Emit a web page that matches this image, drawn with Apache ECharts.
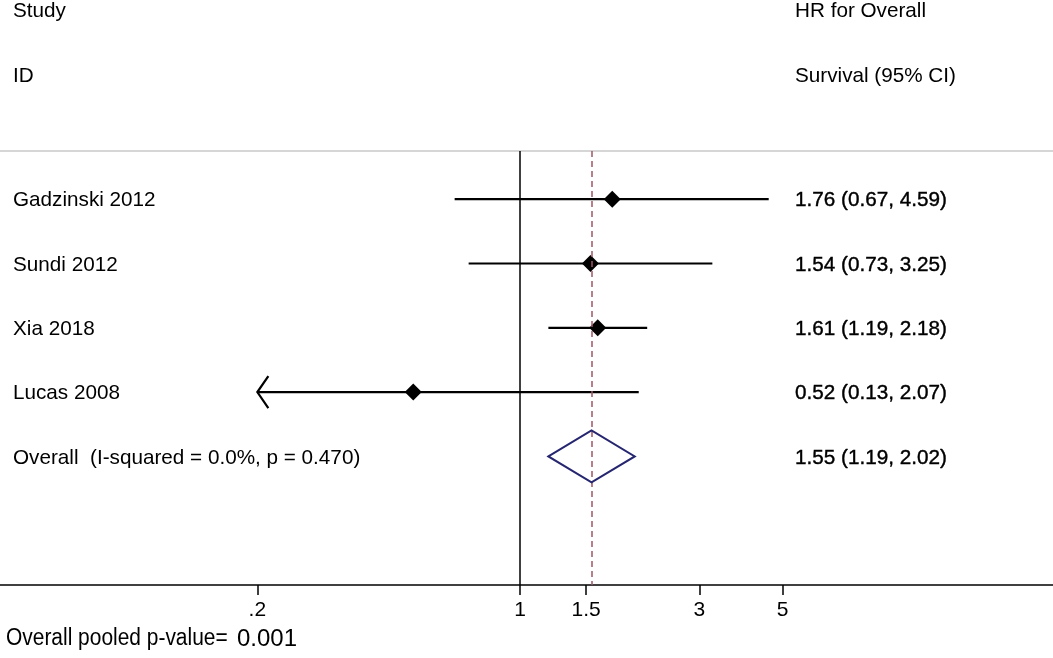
<!DOCTYPE html>
<html>
<head>
<meta charset="utf-8">
<title>Forest plot - HR for Overall Survival</title>
<script src="https://cdn.jsdelivr.net/npm/echarts@6/dist/echarts.min.js"></script>
<style>
  html, body { margin: 0; padding: 0; background: #fff; }
  #chart { width: 1053px; height: 658px; }
</style>
</head>
<body>
<div id="chart"></div>
<script>
// 数据
var studies = ['Gadzinski 2012', 'Sundi 2012', 'Xia 2018', 'Lucas 2008'];
var hr = [1.76, 1.54, 1.61, 0.52];
var lower = [0.67, 0.73, 1.19, 0.13];
var upper = [4.59, 3.25, 2.18, 2.07];

var overallName = 'Overall  (I-squared = 0.0%, p = 0.470)';
var overallHR = 1.55;
var overallCI = [1.19, 2.02];

var tickValues = [0.2, 1, 1.5, 3, 5];
var tickLabels = ['.2', '1', '1.5', '3', '5'];
var ciClipMin = 0.2;   // 图的左端，超出的置信区间画箭头
var pooledP = '0.001';

// 版面参数
var FONT = '"Liberation Sans", Arial, Helvetica, sans-serif';
var TEXT_SIZE = 20.7;
var X_ONE = 520;        // HR = 1 的像素位置
var PX_PER_LN = 163.2;  // 每个 ln 单位的像素
var WIDTH = 1053;
var NAME_X = 13;
var CI_X = 795;

var ln = Math.log;
var xMin = -X_ONE / PX_PER_LN;
var xMax = (WIDTH - X_ONE) / PX_PER_LN;

function fmt(v) { return v.toFixed(2); }

var rowNames = studies.concat([overallName]);
var rowCI = hr.map(function (v, i) {
    return fmt(v) + ' (' + fmt(lower[i]) + ', ' + fmt(upper[i]) + ')';
}).concat([fmt(overallHR) + ' (' + fmt(overallCI[0]) + ', ' + fmt(overallCI[1]) + ')']);

function headText(text, x, y) {
    return { type: 'text', x: x, y: y, style: { text: text, font: TEXT_SIZE + 'px ' + FONT, fill: '#000', verticalAlign: 'middle' } };
}

var chart = echarts.init(document.getElementById('chart'));

var option = {
    backgroundColor: '#fff',
    animation: false,
    grid: { left: 0, right: 0, top: 151, bottom: 73, outerBoundsMode: 'none' },
    xAxis: [{
        type: 'value',
        min: xMin,
        max: xMax,
        position: 'bottom',
        axisLine: { show: true, onZero: false, lineStyle: { color: '#000', width: 1.6 } },
        axisTick: {
            show: true, length: 10,
            customValues: tickValues.map(ln),
            lineStyle: { color: '#000', width: 1.5 }
        },
        axisLabel: {
            show: true,
            customValues: tickValues.map(ln),
            margin: 15,
            fontFamily: FONT,
            fontSize: 21,
            color: '#000',
            formatter: function (v) {
                for (var i = 0; i < tickValues.length; i++) {
                    if (Math.abs(ln(tickValues[i]) - v) < 1e-6) return tickLabels[i];
                }
                return '';
            }
        },
        splitLine: { show: false }
    }, {
        type: 'value',
        min: xMin,
        max: xMax,
        position: 'top',
        axisLine: { show: true, onZero: false, lineStyle: { color: '#c8c8c8', width: 1.5 } },
        axisTick: { show: false },
        axisLabel: { show: false },
        splitLine: { show: false }
    }],
    yAxis: {
        type: 'value',
        min: 0.25,
        max: 7,
        inverse: true,
        show: false
    },
    graphic: [
        headText('Study', NAME_X, 11.5),
        headText('ID', NAME_X, 76),
        headText('HR for Overall', CI_X, 11.5),
        headText('Survival (95% CI)', CI_X, 76),
        { type: 'text', x: 6, y: 639, scaleX: 0.91, style: { text: 'Overall pooled p-value=', font: '23px ' + FONT, fill: '#000', verticalAlign: 'middle' } },
        { type: 'text', x: 237, y: 639, style: { text: pooledP, font: '24px ' + FONT, fill: '#000', verticalAlign: 'middle' } }
    ],
    series: [
        // 置信区间
        {
            type: 'custom',
            silent: true,
            data: studies.map(function (s, i) { return [ln(lower[i]), ln(upper[i]), i + 1]; }),
            encode: { x: [0, 1], y: 2 },
            renderItem: function (params, api) {
                var lo = api.value(0), hi = api.value(1), y = api.value(2);
                var clip = ln(ciClipMin);
                var p1 = api.coord([Math.max(lo, clip), y]);
                var p2 = api.coord([hi, y]);
                var children = [{
                    type: 'line',
                    shape: { x1: p1[0], y1: p1[1], x2: p2[0], y2: p2[1] },
                    style: { stroke: '#000', lineWidth: 2.2 }
                }];
                if (lo < clip) {
                    children.push({
                        type: 'polyline',
                        shape: { points: [[p1[0] + 11, p1[1] - 16], [p1[0], p1[1]], [p1[0] + 11, p1[1] + 16]] },
                        style: { stroke: '#000', lineWidth: 2.2, fill: null }
                    });
                }
                return { type: 'group', children: children };
            },
            z: 3
        },
        // 点估计 + 参考线
        {
            type: 'scatter',
            silent: true,
            symbol: 'diamond',
            symbolSize: 17,
            itemStyle: { color: '#000', opacity: 1 },
            data: hr.map(function (v, i) { return [ln(v), i + 1]; }),
            markLine: {
                silent: true,
                symbol: ['none', 'none'],
                label: { show: false },
                data: [
                    { xAxis: 0, lineStyle: { color: '#000', width: 1.5, type: 'solid' } },
                    { xAxis: ln(overallHR), lineStyle: { color: '#9e5563', width: 1.5, type: [6, 4] } }
                ]
            },
            z: 4
        },
        // 合并效应菱形
        {
            type: 'custom',
            silent: true,
            data: [[ln(overallCI[0]), ln(overallCI[1]), ln(overallHR), studies.length + 1]],
            encode: { x: [0, 1, 2], y: 3 },
            renderItem: function (params, api) {
                var y = api.value(3);
                var l = api.coord([api.value(0), y]);
                var r = api.coord([api.value(1), y]);
                var c = api.coord([api.value(2), y]);
                return {
                    type: 'polygon',
                    shape: { points: [[l[0], l[1]], [c[0], c[1] - 26], [r[0], r[1]], [c[0], c[1] + 26]] },
                    style: { stroke: '#262670', lineWidth: 2, fill: null }
                };
            },
            z: 5
        },
        // 文字列：研究名称和 HR (95% CI)
        {
            type: 'custom',
            silent: true,
            data: rowNames.map(function (n, i) { return [0, i + 1]; }),
            encode: { x: 0, y: 1 },
            renderItem: function (params, api) {
                var i = params.dataIndex;
                var y = api.coord([0, api.value(1)])[1] + 1.5;
                return {
                    type: 'group',
                    children: [{
                        type: 'text', x: NAME_X, y: y,
                        style: { text: rowNames[i], font: TEXT_SIZE + 'px ' + FONT, fill: '#000', verticalAlign: 'middle' }
                    }, {
                        type: 'text', x: CI_X, y: y,
                        style: { text: rowCI[i], font: TEXT_SIZE + 'px ' + FONT, fill: '#000', stroke: '#000', lineWidth: 0.4, verticalAlign: 'middle' }
                    }]
                };
            },
            z: 6
        }
    ]
};

chart.setOption(option);
window.addEventListener('resize', function () { chart.resize(); });
</script>
</body>
</html>
